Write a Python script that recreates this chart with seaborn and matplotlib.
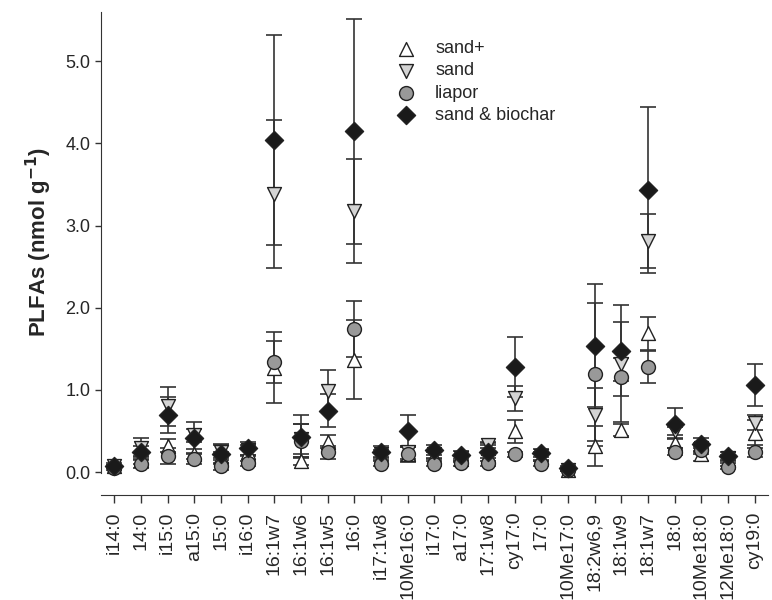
import matplotlib
matplotlib.use("Agg")
import matplotlib.pyplot as plt
import seaborn as sns
import numpy as np
import pandas as pd

# PLFA Werte je Fettsäure (Mittelwert und Fehler)
cats = ["i14:0", "14:0", "i15:0", "a15:0", "15:0", "i16:0", "16:1w7", "16:1w6",
        "16:1w5", "16:0", "i17:1w8", "10Me16:0", "i17:0", "a17:0", "17:1w8",
        "cy17:0", "17:0", "10Me17:0", "18:2w6,9", "18:1w9", "18:1w7", "18:0",
        "10Me18:0", "12Me18:0", "cy19:0"]

sand_plus = [0.07, 0.15, 0.32, 0.22, 0.20, 0.25, 1.27, 0.14, 0.37, 1.37, 0.20, 0.22, 0.20,
             0.16, 0.30, 0.50, 0.18, 0.03, 0.32, 0.51, 1.69, 0.35, 0.22, 0.15, 0.48]
sand_plus_err = [0.02, 0.05, 0.08, 0.06, 0.05, 0.05, 0.43, 0.05, 0.08, 0.48, 0.05, 0.10, 0.04,
                 0.04, 0.06, 0.14, 0.05, 0.02, 0.24, 0.07, 0.20, 0.06, 0.08, 0.04, 0.15]
sand = [0.07, 0.30, 0.80, 0.45, 0.25, 0.27, 3.38, 0.40, 0.99, 3.18, 0.22, 0.24, 0.22,
        0.17, 0.33, 0.90, 0.20, 0.03, 0.70, 1.32, 2.81, 0.50, 0.30, 0.17, 0.60]
sand_err = [0.02, 0.11, 0.24, 0.08, 0.08, 0.06, 0.90, 0.18, 0.25, 0.63, 0.05, 0.08, 0.05,
            0.04, 0.04, 0.15, 0.05, 0.02, 0.32, 0.71, 0.33, 0.05, 0.06, 0.04, 0.09]
liapor = [0.05, 0.10, 0.20, 0.16, 0.07, 0.11, 1.34, 0.38, 0.24, 1.74, 0.10, 0.22, 0.10,
          0.11, 0.11, 0.22, 0.10, 0.03, 1.19, 1.16, 1.28, 0.25, 0.27, 0.06, 0.24]
liapor_err = [0.02, 0.05, 0.10, 0.06, 0.04, 0.03, 0.26, 0.20, 0.08, 0.34, 0.03, 0.09, 0.03,
              0.03, 0.03, 0.03, 0.03, 0.01, 0.87, 0.23, 0.20, 0.04, 0.05, 0.02, 0.05]
biochar = [0.08, 0.24, 0.70, 0.42, 0.22, 0.29, 4.04, 0.43, 0.75, 4.15, 0.25, 0.50, 0.27,
           0.21, 0.25, 1.28, 0.23, 0.05, 1.54, 1.47, 3.43, 0.59, 0.34, 0.20, 1.06]
biochar_err = [0.03, 0.08, 0.22, 0.19, 0.12, 0.08, 1.28, 0.26, 0.20, 1.37, 0.07, 0.19, 0.06,
               0.05, 0.08, 0.37, 0.05, 0.02, 0.75, 0.36, 1.01, 0.19, 0.08, 0.05, 0.26]

series = [
    ("sand+", sand_plus, sand_plus_err, "^", "white"),
    ("sand", sand, sand_err, "v", "#d4d4d4"),
    ("liapor", liapor, liapor_err, "o", "#999999"),
    ("sand & biochar", biochar, biochar_err, "D", "#1a1a1a"),
]

sns.set_style("ticks")
plt.rcParams["font.family"] = ["Liberation Sans", "DejaVu Sans"]

fig = plt.figure(figsize=(7.72, 6), dpi=100)
ax = fig.add_axes([0.1308, 0.2117, 0.864, 0.7683])

xpos = np.arange(len(cats))
for name, vals, errs, mk, fc in series:
    df = pd.DataFrame({"x": xpos, "y": vals})
    ax.errorbar(xpos, vals, yerr=errs, fmt="none", ecolor="#333333",
                elinewidth=1.2, capsize=6, capthick=1.2, zorder=2, clip_on=False)
    sns.scatterplot(data=df, x="x", y="y", ax=ax, marker=mk, color=fc,
                    edgecolor="#222222", linewidth=1.0,
                    s=100 if mk != "D" else 85, label=name, zorder=3, clip_on=False)

# Achsen (Spine zuerst verschieben, sonst werden die Ticks zurückgesetzt)
for s in ["top", "right"]:
    ax.spines[s].set_visible(False)
ax.spines["bottom"].set_position(("outward", 16))
ax.spines["left"].set_color("#333333")
ax.spines["bottom"].set_color("#333333")

ax.set_xlim(-0.5, 24.5)
ax.set_ylim(-0.01, 5.6)
ax.set_yticks([0, 1, 2, 3, 4, 5])
ax.set_yticklabels(["0.0", "1.0", "2.0", "3.0", "4.0", "5.0"], fontsize=13)
ax.set_xticks(xpos)
ax.set_xticklabels(cats, rotation=90, fontsize=14)
ax.set_xlabel("")
ax.set_ylabel("PLFAs (nmol g$^{\\mathbf{-1}}$)", fontsize=16, fontweight="bold", labelpad=8)

ax.tick_params(axis="both", direction="out", color="#333333", width=1.0)
ax.tick_params(axis="y", length=4)
ax.tick_params(axis="x", length=6, pad=6)

leg = ax.legend(loc="upper left", bbox_to_anchor=(0.417, 0.958), frameon=False,
                fontsize=13, handletextpad=0.6, labelspacing=0.28, borderpad=0)

fig.savefig("out.png", dpi=100)
